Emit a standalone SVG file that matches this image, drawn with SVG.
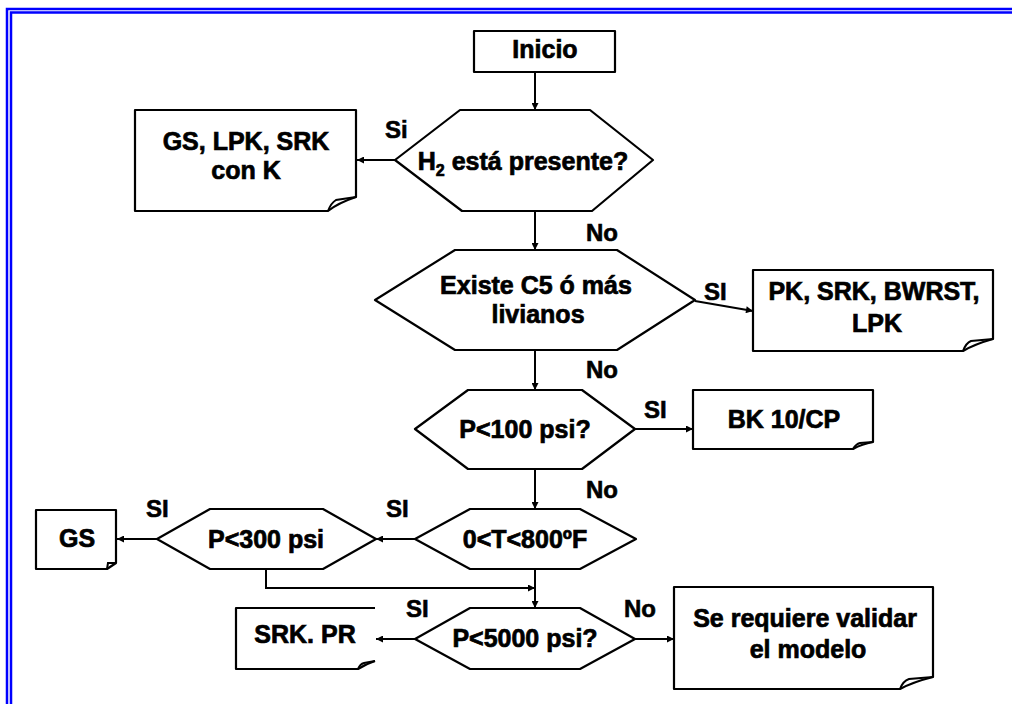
<svg xmlns="http://www.w3.org/2000/svg" width="1012" height="704" viewBox="0 0 1012 704">
<style>
.sh{fill:#fff;stroke:#000;stroke-width:2.2;stroke-linejoin:round}
.cn{fill:none;stroke:#000;stroke-width:2}
.ar{marker-end:url(#ah)}
.t{font-family:"Liberation Sans",Arial,sans-serif;font-weight:bold;font-size:25px;fill:#000;stroke:#000;stroke-width:0.7;text-anchor:middle}
.l{font-family:"Liberation Sans",Arial,sans-serif;font-weight:bold;font-size:24px;fill:#000;stroke:#000;stroke-width:0.6}
.bd{stroke:#0000ff;stroke-width:2.5;fill:none}
</style>
<defs>
<marker id="ah" viewBox="0 0 10 10" refX="10" refY="5" markerWidth="9" markerHeight="7" markerUnits="userSpaceOnUse" orient="auto">
<path d="M0,0 L10,5 L0,10 Z" fill="#000"/>
</marker>
</defs>
<rect width="1012" height="704" fill="#fff"/>
<g id="border">
<path class="bd" d="M7,704 V9 H1012"/>
<path class="bd" d="M11,704 V12.5 H1012"/>
</g>
<g id="connectors">
<path class="cn ar" d="M535,72 V110"/>
<path class="cn ar" d="M395,160 H357"/>
<path class="cn ar" d="M535,211 V250"/>
<path class="cn ar" d="M695,301 L753,311"/>
<path class="cn ar" d="M535,350 V390"/>
<path class="cn ar" d="M635,429 H693"/>
<path class="cn ar" d="M535,469 V509"/>
<path class="cn ar" d="M415,539 H376"/>
<path class="cn ar" d="M157,539 H117"/>
<path class="cn ar" d="M266,569 V588 H535"/>
<path class="cn ar" d="M535,569 V608"/>
<path class="cn ar" d="M415,639 H376"/>
<path class="cn ar" d="M635,639 H674"/>
</g>
<g id="labels">
<text class="l" x="385" y="138">Si</text>
<text class="l" x="586" y="241">No</text>
<text class="l" x="704" y="300">SI</text>
<text class="l" x="586" y="378">No</text>
<text class="l" x="644" y="418">SI</text>
<text class="l" x="586" y="498">No</text>
<text class="l" x="386" y="517">SI</text>
<text class="l" x="146" y="517">SI</text>
<text class="l" x="406" y="617">SI</text>
<text class="l" x="624" y="617">No</text>
</g>
<g id="inicio">
<rect class="sh" x="474" y="31" width="141" height="41" stroke-width="3"/>
<text class="t" x="545" y="58">Inicio</text>
</g>
<g id="h2">
<polygon class="sh" points="395,160 460,110 590,110 653,160 592,211 462,211"/>
<text class="t" x="523" y="170">H<tspan font-size="16" dy="6">2</tspan><tspan dy="-6"> está presente?</tspan></text>
</g>
<g id="gs-lpk-srk">
<path class="sh" d="M135,110 H356 V197 Q338,203 328,211 H135 Z"/>
<path class="cn" d="M328,211 Q331,203 336,200 L356,197"/>
<text class="t" x="246" y="150">GS, LPK, SRK</text>
<text class="t" x="246" y="179">con K</text>
</g>
<g id="c5">
<polygon class="sh" points="375,300 455,250 617,250 695,300 617,350 455,350"/>
<text class="t" x="536" y="294">Existe C5 ó más</text>
<text class="t" x="538" y="323">livianos</text>
</g>
<g id="pk">
<path class="sh" d="M753,270 H993 V339 Q975,344 963,351 H753 Z"/>
<path class="cn" d="M963,351 Q966,343 971,341 L993,339"/>
<text class="t" x="874" y="300">PK, SRK, BWRST,</text>
<text class="t" x="877" y="332">LPK</text>
</g>
<g id="p100">
<polygon class="sh" points="415,429 468,390 582,390 635,429 582,469 468,469"/>
<text class="t" x="525" y="438">P&lt;100 psi?</text>
</g>
<g id="bk">
<path class="sh" d="M693,390 H873 V442 Q862,444 853,449 H693 Z"/>
<path class="cn" d="M853,449 Q856,444 860,443 L873,442"/>
<text class="t" x="784" y="428">BK 10/CP</text>
</g>
<g id="temp">
<polygon class="sh" points="415,539 470,509 580,509 636,539 580,569 470,569"/>
<text class="t" x="525" y="548">0&lt;T&lt;800ºF</text>
</g>
<g id="p300">
<polygon class="sh" points="157,539 210,509 323,509 376,539 323,569 210,569"/>
<text class="t" x="266" y="548">P&lt;300 psi</text>
</g>
<g id="gs">
<path class="sh" d="M36,510 H116 V563 L107,569 H36 Z"/>
<path class="cn" d="M107,569 L108,563 L116,563" stroke-width="1.2"/>
<text class="t" x="77" y="547">GS</text>
</g>
<g id="p5000">
<polygon class="sh" points="415,639 470,608 580,608 635,639 580,669 470,669"/>
<text class="t" x="525" y="647">P&lt;5000 psi?</text>
</g>
<g id="srk-pr">
<path class="sh" d="M375,608 H236 V669 H358 Q366,664 375,661"/>
<path class="cn" d="M358,669 Q360,664 364,663 L375,661"/>
<text class="t" x="305" y="643">SRK. PR</text>
</g>
<g id="validar">
<path class="sh" d="M674,587 H933 V677 Q913,682 900,689 H674 Z"/>
<path class="cn" d="M900,689 Q903,681 909,679 L933,677"/>
<text class="t" x="805" y="627">Se requiere validar</text>
<text class="t" x="808" y="658">el modelo</text>
</g>
</svg>
